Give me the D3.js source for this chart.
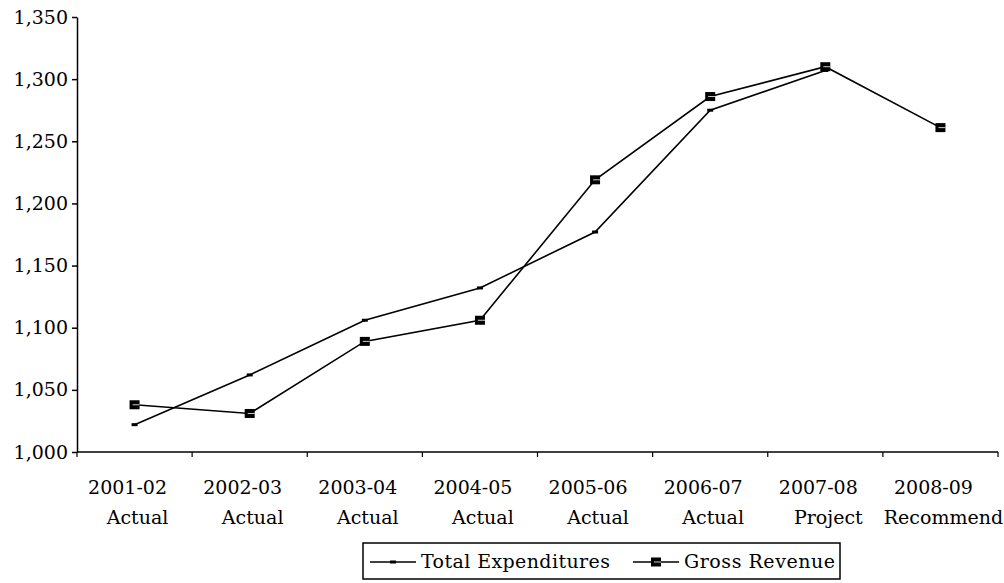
<!DOCTYPE html>
<html>
<head>
<meta charset="utf-8">
<script src="https://cdn.jsdelivr.net/npm/d3@7"></script>
<style>
  body { margin: 0; background: #fff; }
  text { font-family: "DejaVu Serif", serif; fill: #000; }
</style>
</head>
<body>
<div id="chart"></div>
<script>
// Chart data
const years = ["2001-02", "2002-03", "2003-04", "2004-05", "2005-06", "2006-07", "2007-08", "2008-09"];
const stages = ["Actual", "Actual", "Actual", "Actual", "Actual", "Actual", "Project", "Recommend"];
const totalExpenditures = [1022, 1062, 1106, 1132, 1177, 1275, 1307, null];
const grossRevenue = [1038, 1031, 1089, 1106, 1219, 1286, 1310, 1261];
const yTicks = [1000, 1050, 1100, 1150, 1200, 1250, 1300, 1350];

const width = 1004;
const height = 583;
const margin = { top: 17, bottom: 131, left: 77, right: 6 };

const svg = d3.select('#chart')
    .append('svg')
    .attr('width', width)
    .attr('height', height);

svg.append('rect').attr('width', width).attr('height', height).attr('fill', '#fff');

// Scales
const x = d3.scaleBand()
    .domain(d3.range(years.length))
    .range([margin.left, width - margin.right]);

const y = d3.scaleLinear()
    .domain([1000, 1350])
    .range([height - margin.bottom, margin.top]);

const cx = i => x(i) + x.bandwidth() / 2;

// Y axis
svg.append('g')
    .attr('transform', `translate(${margin.left},0)`)
    .call(d3.axisLeft(y).tickValues(yTicks).tickFormat(d3.format(',')).tickSize(5).tickSizeOuter(0))
    .call(g => g.selectAll('text').attr('font-size', '19px').attr('x', -9))
    .call(g => g.selectAll('line, path').attr('stroke', '#000').attr('stroke-width', 1.5));

// X axis: line with ticks at the band edges, two-line labels under each band
const xg = svg.append('g').attr('transform', `translate(0,${y(1000)})`);
xg.append('line')
    .attr('x1', margin.left).attr('x2', width - margin.right)
    .attr('stroke', '#000').attr('stroke-width', 1.5);
xg.selectAll('line.tick')
    .data(d3.range(years.length + 1))
    .join('line')
    .attr('class', 'tick')
    .attr('x1', i => i < years.length ? x(i) : x(years.length - 1) + x.bandwidth())
    .attr('x2', i => i < years.length ? x(i) : x(years.length - 1) + x.bandwidth())
    .attr('y1', 0).attr('y2', 5)
    .attr('stroke', '#000').attr('stroke-width', 1.2);

const labels = xg.selectAll('text.lab')
    .data(d3.range(years.length))
    .join('text')
    .attr('class', 'lab')
    .attr('font-size', '19px')
    .attr('text-anchor', 'middle');
labels.append('tspan')
    .attr('x', i => cx(i) - 7).attr('y', 42)
    .text(i => years[i]);
labels.append('tspan')
    .attr('x', i => cx(i) + 3).attr('y', 72)
    .text(i => stages[i]);

// Lines
const line = d3.line()
    .defined(d => d != null)
    .x((d, i) => cx(i))
    .y(d => y(d));

svg.append('path')
    .datum(totalExpenditures)
    .attr('fill', 'none').attr('stroke', '#000').attr('stroke-width', 1.6)
    .attr('d', line);

svg.append('path')
    .datum(grossRevenue)
    .attr('fill', 'none').attr('stroke', '#000').attr('stroke-width', 1.6)
    .attr('d', line);

// Markers
function dashMarker(g) {
    g.append('rect').attr('x', -3).attr('y', -1.5).attr('width', 6).attr('height', 3).attr('fill', '#000');
}
function squareMarker(g) {
    g.append('rect').attr('x', -5).attr('y', -4.5).attr('width', 10).attr('height', 9).attr('fill', '#000');
    g.append('line').attr('x1', -2).attr('x2', 5).attr('y1', 0).attr('y2', 0).attr('stroke', '#fff').attr('stroke-width', 0.8);
}

svg.append('g').selectAll('g')
    .data(totalExpenditures.map((v, i) => ({ v, i })).filter(d => d.v != null))
    .join('g')
    .attr('transform', d => `translate(${cx(d.i)},${y(d.v)})`)
    .each(function () { dashMarker(d3.select(this)); });

svg.append('g').selectAll('g')
    .data(grossRevenue.map((v, i) => ({ v, i })))
    .join('g')
    .attr('transform', d => `translate(${cx(d.i)},${y(d.v)})`)
    .each(function () { squareMarker(d3.select(this)); });

// Legend
const legend = svg.append('g');
legend.append('rect')
    .attr('x', 363).attr('y', 543).attr('width', 477).attr('height', 36)
    .attr('fill', '#fff').attr('stroke', '#000').attr('stroke-width', 1.5);

const items = [
    { name: 'Total Expenditures', x: 370, marker: dashMarker },
    { name: 'Gross Revenue', x: 633, marker: squareMarker }
];
items.forEach(it => {
    legend.append('line')
        .attr('x1', it.x).attr('x2', it.x + 46)
        .attr('y1', 562).attr('y2', 562)
        .attr('stroke', '#000').attr('stroke-width', 1.6);
    it.marker(legend.append('g').attr('transform', `translate(${it.x + 23},562)`));
    legend.append('text')
        .attr('x', it.x + 51).attr('y', 568)
        .attr('font-size', '19px')
        .attr('textLength', it.name === 'Total Expenditures' ? 189 : 151)
        .attr('lengthAdjust', 'spacing')
        .text(it.name);
});
</script>
</body>
</html>
